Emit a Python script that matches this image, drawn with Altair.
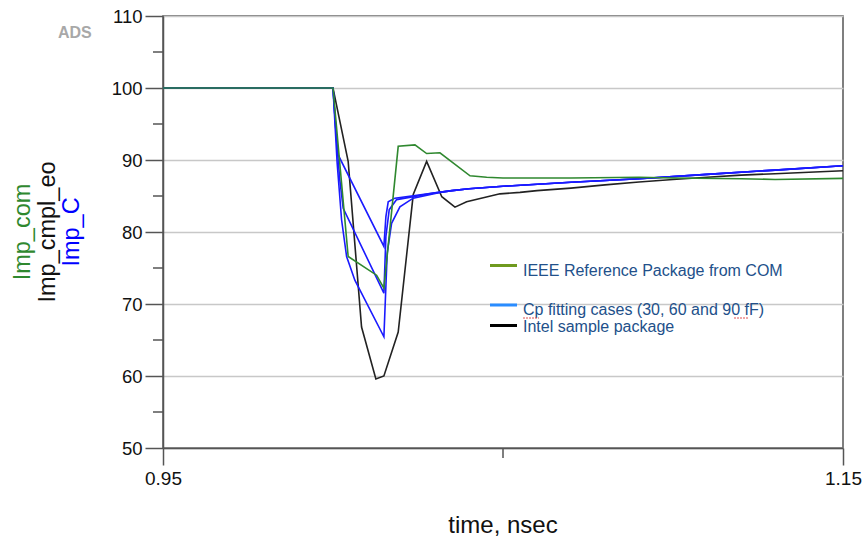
import altair as alt
import pandas as pd

# ---------------- data ----------------
com_t = [0.95, 1.000, 1.00446, 1.01282, 1.01497, 1.01918, 1.0241, 1.02754, 1.03145, 1.0403, 1.0452,
         1.05, 1.07, 1.09, 1.10, 1.12, 1.13, 1.15]
com_v = [100, 100, 76.6, 74.0, 72.2, 91.9, 92.1, 90.9, 91.0, 87.8, 87.6,
         87.5, 87.5, 87.6, 87.5, 87.4, 87.3, 87.45]

eo_t = [0.95, 1.000, 1.00446, 1.0084, 1.01261, 1.01497, 1.01918, 1.0236, 1.02754, 1.0320, 1.03587,
        1.0393, 1.0491, 1.0550, 1.06, 1.07, 1.08, 1.09, 1.10, 1.11, 1.12, 1.13, 1.14, 1.15]
eo_v = [100, 100, 89.8, 66.8, 59.6, 60.0, 66.1, 85.2, 89.8, 84.9, 83.45,
        84.2, 85.3, 85.5, 85.75, 86.1, 86.55, 86.95, 87.3, 87.6, 87.9, 88.1, 88.3, 88.5]

tail_t = [1.035, 1.04, 1.05, 1.07, 1.09, 1.11, 1.13, 1.15]
tail_v = [85.75, 86.0, 86.35, 86.9, 87.4, 88.0, 88.6, 89.2]

c30_t = [0.95, 1.000, 1.00084, 1.00152, 1.01497, 1.01556, 1.01624, 1.01821, 1.0295] + tail_t
c30_v = [100, 100, 94.2, 90.7, 78.0, 82.15, 84.2, 84.7, 85.4] + tail_v

c60_t = [0.95, 1.000, 1.00104, 1.0020, 1.0030, 1.01497, 1.01556, 1.01654, 1.01872, 1.0295] + tail_t
c60_v = [100, 100, 92.8, 87.25, 83.3, 71.5, 79.4, 83.1, 84.5, 85.4] + tail_v

c90_t = [0.95, 1.000, 1.00122, 1.00252, 1.0040, 1.00643, 1.01497, 1.01594, 1.01723, 1.01968,
         1.02359, 1.03145] + tail_t
c90_v = [100, 100, 89.6, 81.7, 76.6, 73.3, 65.45, 77.05, 81.2, 83.5,
         84.7, 85.5] + tail_v

y_major = [50, 60, 70, 80, 90, 100, 110]
y_minor = [55, 65, 75, 85, 95, 105]
x_major = [0.95, 1.15]
x_minor = [1.05]

legend_labels = ["IEEE Reference Package from COM", "Cp fitting cases (30, 60 and 90 fF)", "Intel sample package"]
y_titles = ["Imp_com", "Imp_cmpl_eo", "Imp_C"]

FONT = "Liberation Sans"
GREEN = "#2f882f"
BLUE = "#1a1aff"
BLACK = "#222222"

xs = alt.Scale(domain=[0.95, 1.15], nice=False, zero=False)
ys = alt.Scale(domain=[50, 110], nice=False, zero=False)

x_axis = alt.Axis(values=x_major, format=".2f", tickSize=17, labelPadding=4, grid=False,
                  title=None, labelFontSize=19, labelFont=FONT, labelColor="#111",
                  domainColor="#555", domainWidth=1.5, tickColor="#555", tickWidth=1.5,
                  labelFlush=False)
y_axis = alt.Axis(values=y_major, tickSize=18, labelPadding=3, grid=True, gridColor="#c8c8c8",
                  gridWidth=1.5, title=None, labelFontSize=18.5, labelFont=FONT, labelColor="#111",
                  domainColor="#555", domainWidth=1.5, tickColor="#555", tickWidth=1.5)


def series_layer(name, ts, vs, color):
    d = pd.DataFrame({"t": ts, "v": vs, "i": list(range(len(ts))), "series": name})
    return alt.Chart(d).mark_line(strokeWidth=1.6, color=color).encode(
        x=alt.X("t:Q", scale=xs, axis=x_axis),
        y=alt.Y("v:Q", scale=ys, axis=y_axis),
        order="i:Q",
    )


line_layers = [
    series_layer("Imp_cmpl_eo", eo_t, eo_v, BLACK),
    series_layer("Imp_C30", c30_t, c30_v, BLUE),
    series_layer("Imp_C60", c60_t, c60_v, BLUE),
    series_layer("Imp_C90", c90_t, c90_v, BLUE),
    series_layer("Imp_com", com_t, com_v, GREEN),
]

minor_y = alt.Chart(pd.DataFrame({"v": y_minor})).mark_rule(color="#555", strokeWidth=1.5).encode(
    y=alt.Y("v:Q", scale=ys, axis=y_axis), x=alt.value(-10), x2=alt.value(0))
minor_x = alt.Chart(pd.DataFrame({"t": x_minor})).mark_rule(color="#555", strokeWidth=1.5).encode(
    x=alt.X("t:Q", scale=xs, axis=x_axis), y=alt.value(432), y2=alt.value(442))


def label(text, x, y, **kw):
    return alt.Chart(pd.DataFrame({"label": [text]})).mark_text(font=FONT, **kw).encode(
        text="label:N", x=alt.value(x), y=alt.value(y))


ytitle_colors = [GREEN, "#111111", "#0000ff"]
ytitle_x = [-133, -108, -84]
ytitle_layers = [label(t, x, 216, angle=270, align="center", baseline="alphabetic", fontSize=23.5, color=c)
                 for t, x, c in zip(y_titles, ytitle_x, ytitle_colors)]

xtitle = label("time, nsec", 340, 517, align="center", baseline="alphabetic", fontSize=24, color="#111")
ads = label("ADS", -105, 22, align="left", baseline="alphabetic", fontSize=16, fontWeight="bold", color="#a8a8a8")

leg_colors = ["#6f9a1f", "#2a8cff", "#000000"]
leg_line_y = [249.5, 289, 309.5]
leg_text_y = [260, 299, 315.5]
leg_layers = []
for lab, col, ly, ty in zip(legend_labels, leg_colors, leg_line_y, leg_text_y):
    leg_layers.append(alt.Chart(pd.DataFrame({"a": [0]})).mark_rule(color=col, strokeWidth=3).encode(
        x=alt.value(327), x2=alt.value(354), y=alt.value(ly)))
    leg_layers.append(label(lab, 360, ty, align="left", baseline="alphabetic", fontSize=16, color="#22508a"))

squiggles = [
    alt.Chart(pd.DataFrame({"a": [0]})).mark_rule(color="#e05050", strokeWidth=1, strokeDash=[2, 1]).encode(
        x=alt.value(360), x2=alt.value(376), y=alt.value(302)),
    alt.Chart(pd.DataFrame({"a": [0]})).mark_rule(color="#e05050", strokeWidth=1, strokeDash=[2, 1]).encode(
        x=alt.value(571), x2=alt.value(585), y=alt.value(302)),
]

chart = alt.layer(*line_layers, minor_y, minor_x, *ytitle_layers, xtitle, ads, *leg_layers, *squiggles).properties(
    width=680, height=432,
    autosize=alt.AutoSizeParams(type="none"),
    padding={"left": 163, "top": 16, "right": 22, "bottom": 95},
    background="white",
).configure_view(stroke="#555", strokeWidth=1.5)

chart.save("out.html", embed_options={"renderer": "svg", "actions": False})
